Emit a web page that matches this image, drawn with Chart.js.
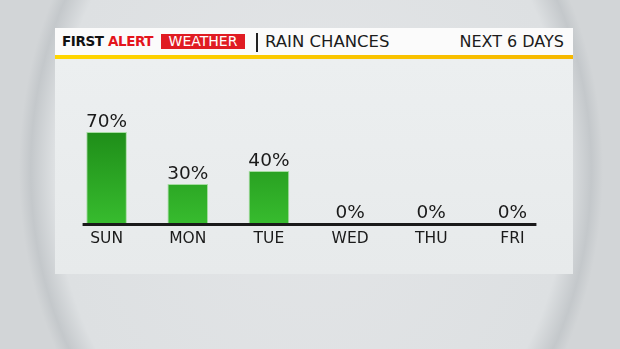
<!DOCTYPE html>
<html>
<head>
<meta charset="utf-8">
<script src="https://cdn.jsdelivr.net/npm/chart.js@4.4.0/dist/chart.umd.min.js"></script>
<style>
  html, body { margin: 0; padding: 0; }
  body {
    width: 620px; height: 349px; overflow: hidden; position: relative;
    font-family: "DejaVu Sans", sans-serif;
    background: radial-gradient(ellipse 292px 370px at 311px 170px, #e3e5e7 0%, #dde0e2 88%, #c4c8cb 96%, #d2d5d7 100%);
  }
  #header {
    position: absolute; left: 55px; top: 28px; width: 518px; height: 27px;
    background: #fbfbfb;
  }
  #stripe {
    position: absolute; left: 55px; top: 55px; width: 518px; height: 4px;
    background: linear-gradient(to right, #ffd600, #f6b800);
  }
  #panel {
    position: absolute; left: 55px; top: 59px; width: 518px; height: 215px;
    background: linear-gradient(to bottom, #eceff0, #e7eaeb);
  }
  .hd { position: absolute; top: 0; line-height: 27px; white-space: nowrap; }
  #first { left: 7px; font-weight: bold; font-size: 13.5px; color: #111; letter-spacing: -0.4px; }
  #alert { color: #e4141b; }
  #wx { position: absolute; left: 106px; top: 6px; width: 84px; height: 15px; background: #e01b22;
        color: #fff; font-size: 14px; line-height: 15px; text-align: center; }
  #bar { position: absolute; left: 201px; top: 5px; width: 2px; height: 19px; background: #222; }
  #title { left: 210px; font-size: 16.5px; color: #1c1c1c; }
  #days { right: 9px; font-size: 16px; color: #1c1c1c; }
  #wrap { position: absolute; left: 54px; top: 59px; width: 519px; height: 215px; }
</style>
</head>
<body>
<div id="header">
  <span class="hd" id="first">FIRST <span id="alert">ALERT</span></span>
  <div id="wx">WEATHER</div>
  <div id="bar"></div>
  <span class="hd" id="title">RAIN CHANCES</span>
  <span class="hd" id="days">NEXT 6 DAYS</span>
</div>
<div id="stripe"></div>
<div id="panel"></div>
<div id="wrap"><canvas id="rain"></canvas></div>
<script>
const days = ["SUN", "MON", "TUE", "WED", "THU", "FRI"];
const rainChance = [70, 30, 40, 0, 0, 0];

// percent labels over bars + black base line
const overlay = {
  id: "overlay",
  afterDatasetsDraw(chart) {
    const ctx = chart.ctx;
    const x = chart.scales.x, y = chart.scales.y;
    const y0 = y.getPixelForValue(0);
    const left = x.getPixelForValue(0) - 24;
    const right = x.getPixelForValue(days.length - 1) + 24;
    ctx.save();
    ctx.fillStyle = "#1a1a1a";
    ctx.fillRect(left, y0, right - left, 3);
    ctx.font = "18.5px 'DejaVu Sans'";
    ctx.textAlign = "center";
    ctx.textBaseline = "alphabetic";
    chart.getDatasetMeta(0).data.forEach((bar, i) => {
      ctx.fillText(rainChance[i] + "%", bar.x, bar.y - 5);
    });
    ctx.restore();
  }
};

new Chart(document.getElementById("rain"), {
  type: "bar",
  data: {
    labels: days,
    datasets: [{
      data: rainChance,
      backgroundColor: function (c) {
        const area = c.chart.chartArea;
        if (!area) return "#2aa322";
        const g = c.chart.ctx.createLinearGradient(0, area.top + 40, 0, area.bottom);
        g.addColorStop(0, "#1f8e19");
        g.addColorStop(1, "#37bb2e");
        return g;
      },
      borderColor: "rgba(120,210,110,0.6)",
      borderWidth: 1,
      barPercentage: 0.5,
      categoryPercentage: 1
    }]
  },
  options: {
    responsive: true,
    maintainAspectRatio: false,
    animation: false,
    layout: { padding: { top: 34, left: 12, right: 20, bottom: 0 } },
    plugins: { legend: { display: false }, tooltip: { enabled: false } },
    scales: {
      x: {
        grid: { display: false, drawTicks: false },
        border: { display: false },
        ticks: { color: "#1a1a1a", padding: 7, font: { family: "DejaVu Sans", size: 15.5 } },
        afterFit: function (s) { s.height = 51; }
      },
      y: { display: false, min: 0, max: 100 }
    }
  },
  plugins: [overlay]
});
</script>
</body>
</html>
